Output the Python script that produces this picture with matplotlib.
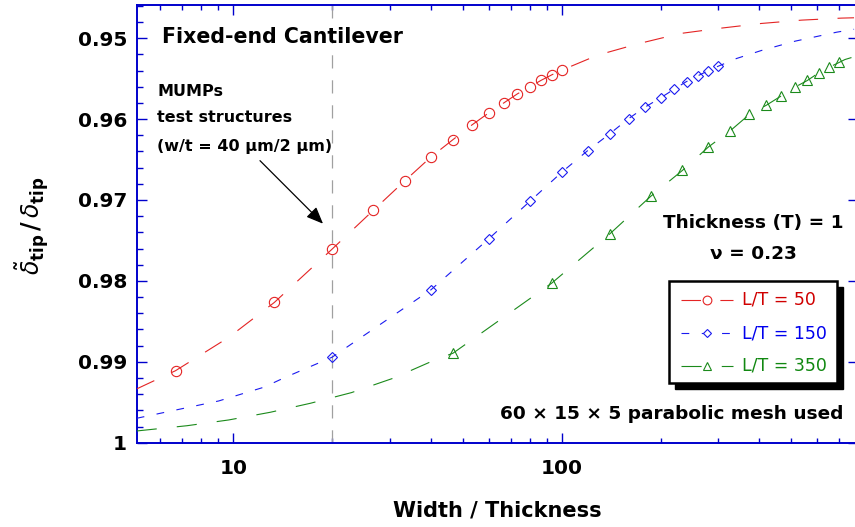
import numpy as np
import matplotlib.pyplot as plt
from matplotlib.lines import Line2D
from matplotlib.patches import Rectangle
from matplotlib.ticker import MultipleLocator, NullFormatter

plt.rcParams['font.family'] = ['DejaVu Sans']
plt.rcParams['mathtext.fontset'] = 'dejavusans'
plt.rcParams['lines.scale_dashes'] = False

# FE results (markers) for each beam length
lt50_w = [6.67, 13.33, 20, 26.67, 33.33, 40, 46.67, 53.33, 60, 66.67, 73.33, 80, 86.67, 93.33, 100]
lt50_d = [0.9911, 0.98267, 0.97607, 0.97129, 0.96761, 0.96468, 0.96254, 0.96072, 0.95923, 0.9580,
          0.95688, 0.95601, 0.9552, 0.95453, 0.95396]
lt150_w = [20, 40, 60, 80, 100, 120, 140, 160, 180, 200, 220, 240, 260, 280, 300]
lt150_d = [0.98943, 0.9811, 0.97479, 0.97017, 0.96658, 0.9639, 0.96183, 0.95994, 0.95849, 0.95738,
           0.95631, 0.95536, 0.95465, 0.954, 0.95346]
lt350_w = [46.67, 93.33, 140, 186.7, 233.3, 280, 326.7, 373.3, 420, 466.7, 513.3, 560, 606.7, 653.3, 700]
lt350_d = [0.98894, 0.98027, 0.97421, 0.96955, 0.96634, 0.96344, 0.96142, 0.95941, 0.95829, 0.95713,
           0.95606, 0.95523, 0.95428, 0.95359, 0.9530]

# fitted curves outside the computed range
fit50_w = [5.08, 9.7, 128.7, 171, 230, 300, 406, 538, 712, 777]
fit50_d = [0.99335, 0.98696, 0.9521, 0.95069, 0.94942, 0.9488, 0.94818, 0.94777, 0.94752, 0.94748]
fit150_w = [5.08, 9.03, 12.4, 14.2, 341, 406, 514, 605, 688, 777]
fit150_d = [0.99698, 0.99484, 0.99314, 0.99203, 0.95251, 0.95152, 0.95037, 0.94975, 0.94926, 0.9489]
fit350_w = [5.08, 7.23, 9.68, 12.96, 17.2, 22.9, 30.7, 40.7, 729, 777]
fit350_d = [0.99855, 0.9979, 0.99719, 0.99624, 0.99512, 0.99381, 0.99203, 0.98985, 0.95264, 0.9523]

series_labels = ['L/T = 50', 'L/T = 150', 'L/T = 350']
yticks = [0.95, 0.96, 0.97, 0.98, 0.99, 1.0]
yticklabels = ['0.95', '0.96', '0.97', '0.98', '0.99', '1']
xticks = [10, 100]
xticklabels = ['10', '100']
mumps_w = 20

W, H = 855, 527
fig = plt.figure(figsize=(W / 100, H / 100), dpi=100)
ax = fig.add_axes([136.7 / W, 1 - 442.7 / H, (858.2 - 136.7) / W, 437.7 / H])

def fx(px):
    return px / W

def fy(py):
    return 1 - py / H

styles = [
    dict(color='#E42424', marker='o', ms=7.4, dashes=(14, 14)),
    dict(color='#1A1AF0', marker='D', ms=4.6, dashes=(5.6, 9)),
    dict(color='#1B8A1B', marker='^', ms=7.2, dashes=(14.5, 14.5)),
]
text_colors = ['#D00000', '#0000EE', '#118811']

data = [(lt50_w, lt50_d, fit50_w, fit50_d),
        (lt150_w, lt150_d, fit150_w, fit150_d),
        (lt350_w, lt350_d, fit350_w, fit350_d)]

for (pw, pd, cw, cd), st in zip(data, styles):
    xs = np.array(pw + cw)
    ys = np.array(pd + cd)
    order = np.argsort(xs)
    xs, ys = xs[order], ys[order]
    marks = list(np.nonzero(order < len(pw))[0])
    ax.plot(xs, ys, color=st['color'], lw=0.8, linestyle=(0, st['dashes']),
            marker=st['marker'], ms=st['ms'], mfc='none', mec=st['color'], mew=0.8,
            markevery=marks, zorder=3)

ax.axvline(mumps_w, color='#A0A0A0', lw=0.9, linestyle=(0, (9.5, 8.5)), zorder=2)

ax.set_xscale('log')
ax.set_xlim(5.08, 800)
ax.set_ylim(1.0, 0.9459)
ax.set_xticks(xticks)
ax.set_xticklabels(xticklabels, fontsize=14.5, fontweight='bold')
ax.xaxis.set_minor_formatter(NullFormatter())
ax.set_yticks(yticks)
ax.set_yticklabels(yticklabels, fontsize=14.5, fontweight='bold')
ax.yaxis.set_minor_locator(MultipleLocator(0.002))

for sp in ax.spines.values():
    sp.set_color('#0000CC')
    sp.set_linewidth(1.4)
ax.tick_params(which='both', direction='in', top=True, right=True, color='#0000CC', width=1.0)
ax.tick_params(axis='y', which='major', length=7.2, pad=7)
ax.tick_params(axis='y', which='minor', length=4.3, right=False)
ax.tick_params(axis='x', which='major', length=7.2, pad=12)
ax.tick_params(axis='x', which='minor', length=3.8)

# annotations
fig.text(fx(162), fy(37), 'Fixed-end Cantilever', fontsize=14.8, fontweight='bold', va='center')
fig.text(fx(157), fy(92), 'MUMPs', fontsize=11.5, fontweight='bold', va='center')
fig.text(fx(157), fy(118), 'test structures', fontsize=11.5, fontweight='bold', va='center')
fig.text(fx(157), fy(147), '(w/t = 40 \u03bcm/2 \u03bcm)', fontsize=11.5, fontweight='bold', va='center')
ax.annotate('', xy=(18.76, 0.97293), xytext=(12.06, 0.96514),
            arrowprops=dict(arrowstyle='-|>,head_length=0.6,head_width=0.25', mutation_scale=17,
                            color='black', lw=0.9, shrinkA=0, shrinkB=0))
fig.text(fx(843), fy(223), 'Thickness (T) = 1', fontsize=13.3, fontweight='bold', ha='right', va='center')
fig.text(fx(753), fy(254), '\u03bd = 0.23', fontsize=13.3, fontweight='bold', ha='center', va='center')
fig.text(fx(843), fy(414), '60 \u00d7 15 \u00d7 5 parabolic mesh used', fontsize=13.3, fontweight='bold',
         ha='right', va='center')

fig.text(fx(497), fy(511), 'Width / Thickness', fontsize=15, fontweight='bold', ha='center', va='center')
fig.text(fx(32), fy(226), r'$\tilde{\delta}_{\mathbf{tip}}\,\mathbf{/}\,\delta_{\mathbf{tip}}$',
         fontsize=17, rotation=90, ha='center', va='center')

# legend box with drop shadow
bx0, bx1, by0, by1 = 669.3, 836.7, 281, 383.3
fig.add_artist(Rectangle((fx(bx0 + 6), fy(by1 + 6)), (bx1 - bx0) / W, (by1 - by0) / H,
                         transform=fig.transFigure, facecolor='black', edgecolor='black', zorder=5))
fig.add_artist(Rectangle((fx(bx0), fy(by1)), (bx1 - bx0) / W, (by1 - by0) / H,
                         transform=fig.transFigure, facecolor='white', edgecolor='black', lw=1.8, zorder=6))
for row_y, st, lab, tc in zip([300, 333, 366], styles, series_labels, text_colors):
    fig.add_artist(Line2D([fx(681), fx(733)], [fy(row_y), fy(row_y)], transform=fig.transFigure,
                          color=st['color'], lw=0.8, linestyle=(0, st['dashes']), zorder=7))
    fig.add_artist(Line2D([fx(707)], [fy(row_y)], transform=fig.transFigure, linestyle='none',
                          marker=st['marker'], ms=st['ms'] * 0.85, mfc='white', mec=st['color'],
                          mew=0.8, zorder=8))
    fig.text(fx(741.7), fy(row_y), lab, fontsize=12.5, color=tc, va='center', zorder=9)

fig.savefig('out.png', dpi=100)
